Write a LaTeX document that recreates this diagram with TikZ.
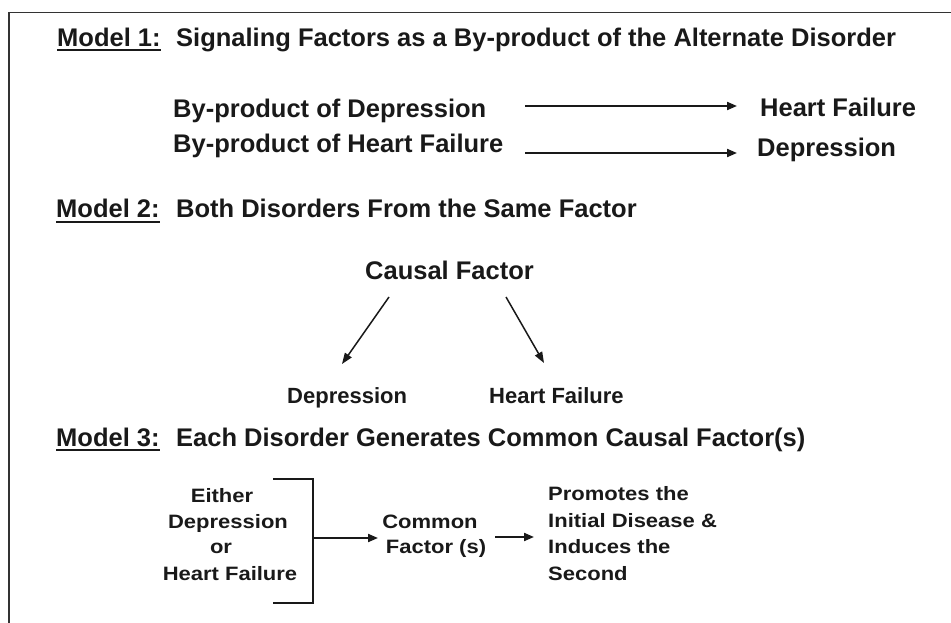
\documentclass[tikz,border=0pt]{standalone}
\usepackage{fontspec}
\setmainfont{Liberation Sans}
\usepackage{graphicx}
\usetikzlibrary{arrows.meta}
\newcommand\mysquash[1]{\scalebox{1}[0.88]{#1}}
\begin{document}
\begin{tikzpicture}[x=1pt,y=-1pt,
  big/.style={inner sep=0pt, font=\fontsize{25.5}{30}\selectfont\bfseries, text=black!90},
  mid/.style={inner sep=0pt, font=\fontsize{22}{26}\selectfont\bfseries, text=black!90},
  lowtxt/.style={inner sep=0pt, font=\fontsize{22}{26}\selectfont\bfseries, text=black!90},
  arr/.style={line width=2pt, draw=black!90, -{Triangle[length=10pt,width=8pt]}},
  thinarr/.style={line width=1.5pt, draw=black!90, -{Triangle[length=11pt,width=8pt]}},
  uline/.style={line width=2pt, draw=black!90},
  frame/.style={line width=1.5pt, draw=black!80},
  brk/.style={line width=2pt, draw=black!90}]
\useasboundingbox (0,0) rectangle (951,623);
% frame
\coordinate (ftr) at (951,12.5);
\coordinate (ftl) at (9,12.5);
\coordinate (fbl) at (9,623);
\draw[frame] (ftr) -- (ftl) -- (fbl);

% Model 1
\node[big, anchor=base west] (m1) at (57,47) {Model 1:};
\node[big, anchor=base west] (t1) at (176,47) {Signaling Factors as a By-product of the Alternate Disorder};
\draw[uline] ([yshift=-3.5pt]m1.base west) -- ([yshift=-3.5pt]m1.base east);
\node[big, anchor=base west] (bp1) at (173,118) {By-product of Depression};
\node[big, anchor=base west] (hf1) at (760,117) {Heart Failure};
\node[big, anchor=base west] (bp2) at (173,153) {By-product of Heart Failure};
\node[big, anchor=base west] (dp1) at (757,157) {Depression};
\coordinate (a1s) at (525,106); \coordinate (a1e) at (737,106);
\coordinate (a2s) at (525,153); \coordinate (a2e) at (737,153);
\draw[arr] (a1s) -- (a1e);
\draw[arr] (a2s) -- (a2e);

% Model 2
\node[big, anchor=base west] (m2) at (56,218) {Model 2:};
\node[big, anchor=base west] (t2) at (176,218) {Both Disorders From the Same Factor};
\draw[uline] ([yshift=-3.5pt]m2.base west) -- ([yshift=-3.5pt]m2.base east);
\node[big, anchor=base west] (cf) at (365,279) {Causal Factor};
\node[mid, anchor=base west] (dp2) at (287,403) {Depression};
\node[mid, anchor=base west] (hf2) at (489,403) {Heart Failure};
\coordinate (b1s) at (389,297); \coordinate (b1e) at (342,364);
\coordinate (b2s) at (506,297); \coordinate (b2e) at (544,363);
\draw[thinarr] (b1s) -- (b1e);
\draw[thinarr] (b2s) -- (b2e);

% Model 3
\node[big, anchor=base west] (m3) at (56,446) {Model 3:};
\node[big, anchor=base west] (t3) at (176,446) {Each Disorder Generates Common Causal Factor(s)};
\draw[uline] ([yshift=-3.5pt]m3.base west) -- ([yshift=-3.5pt]m3.base east);

\node[lowtxt, anchor=base] (l1) at (222,502) {\mysquash{Either}};
\node[lowtxt, anchor=base] (l2) at (228,528) {\mysquash{Depression}};
\node[lowtxt, anchor=base] (l3) at (221,553) {\mysquash{or}};
\node[lowtxt, anchor=base] (l4) at (230,580) {\mysquash{Heart Failure}};

\coordinate (k1) at (273,479); \coordinate (k2) at (313,479);
\coordinate (k3) at (313,603); \coordinate (k4) at (273,603);
\draw[brk] (k1) -- (k2) -- (k3) -- (k4);

\node[lowtxt, anchor=base] (c1) at (430,528) {\mysquash{Common}};
\node[lowtxt, anchor=base] (c2) at (436,553) {\mysquash{Factor (s)}};

\node[lowtxt, anchor=base west] (r1) at (548,500) {\mysquash{Promotes the}};
\node[lowtxt, anchor=base west] (r2) at (548,527) {\mysquash{Initial Disease \&}};
\node[lowtxt, anchor=base west] (r3) at (548,553) {\mysquash{Induces the}};
\node[lowtxt, anchor=base west] (r4) at (548,580) {\mysquash{Second}};

\coordinate (c3s) at (313,538); \coordinate (c3e) at (378,538);
\coordinate (c4s) at (495,537); \coordinate (c4e) at (534,537);
\draw[arr] (c3s) -- (c3e);
\draw[arr] (c4s) -- (c4e);
\end{tikzpicture}
\end{document}
